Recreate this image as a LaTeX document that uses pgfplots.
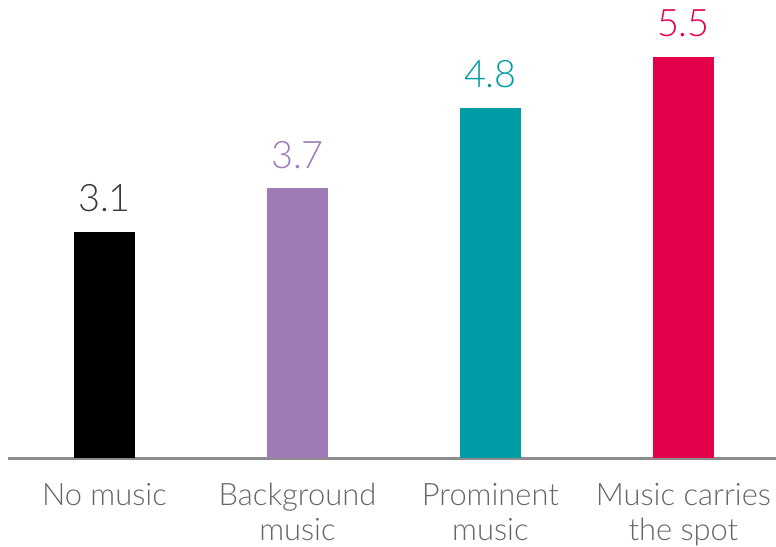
\documentclass[border=0pt]{standalone}
\usepackage{pgfplots}
\pgfplotsset{compat=1.18}
\usepackage{fontspec}
\setmainfont{Lato}[UprightFont=* Light]
\definecolor{cblack}{HTML}{000000}
\definecolor{cpurple}{HTML}{9E7BB5}
\definecolor{cteal}{HTML}{009CA6}
\definecolor{cred}{HTML}{E4004B}
\definecolor{labgray}{HTML}{666666}
\definecolor{valgray}{HTML}{3A3A3A}
\definecolor{axgray}{HTML}{8C8C8C}
\begin{document}
\begin{tikzpicture}
\begin{axis}[
  scale only axis,
  width=768bp, height=458bp,
  xmin=-0.5, xmax=3.48,
  ymin=0, ymax=6.28,
  axis x line=bottom,
  axis y line=none,
  x axis line style={-, draw=axgray, line width=3bp},
  ytick=\empty,
  xtick={0,1,2,3},
  xticklabels={No music\\\mbox{}, Background\\music, Prominent\\music, Music carries\\the spot},
  major tick length=0pt,
  xticklabel style={anchor=base, yshift=-82bp, align=center, text=labgray,
    font=\fontsize{31}{35}\selectfont},
  ybar, bar width=61bp, bar shift=0pt,
  nodes near coords,
  every node near coord/.append style={anchor=base, yshift=20bp, font=\fontsize{38}{40}\selectfont},
  /pgf/number format/.cd, fixed, fixed zerofill, precision=1, assume math mode=true,
]
\addplot[fill=cblack, draw=none, nodes near coords style={text=valgray}] coordinates {(0,3.1)};
\addplot[fill=cpurple, draw=none, nodes near coords style={text=cpurple}] coordinates {(1,3.7)};
\addplot[fill=cteal, draw=none, nodes near coords style={text=cteal}] coordinates {(2,4.8)};
\addplot[fill=cred, draw=none, nodes near coords style={text=cred}] coordinates {(3,5.5)};
\coordinate (bl) at (rel axis cs:0,0);
\end{axis}
\pgfresetboundingbox
\path[use as bounding box] (bl) ++(-8bp,-89bp) rectangle ++(776bp,547bp);
\end{tikzpicture}
\end{document}
